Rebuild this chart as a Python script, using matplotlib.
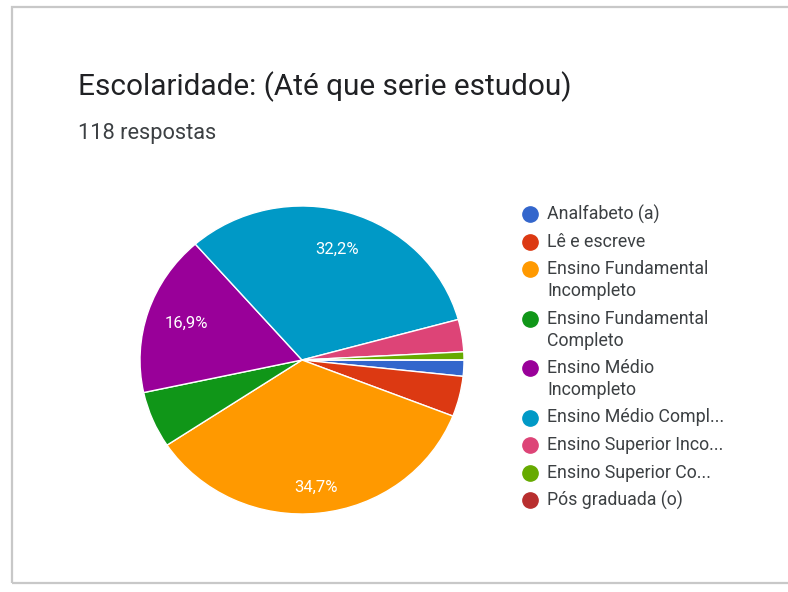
import matplotlib.pyplot as plt
import numpy as np
from matplotlib.lines import Line2D
from matplotlib.patches import Rectangle

# ===== DATA =====
categories = [
    "Analfabeto (a)",
    "Lê e escreve",
    "Ensino Fundamental\nIncompleto",
    "Ensino Fundamental\nCompleto",
    "Ensino Médio\nIncompleto",
    "Ensino Médio Compl...",
    "Ensino Superior Inco...",
    "Ensino Superior Co...",
    "Pós graduada (o)",
]
counts = [2, 5, 41, 7, 20, 38, 4, 1, 0]
colors = ["#3366cc", "#dc3912", "#ff9900", "#109618", "#990099",
          "#0099c6", "#dd4477", "#66aa00", "#b82e2e"]

title = "Escolaridade: (Até que serie estudou)"
subtitle = "118 respostas"

W, H = 788, 592
plt.rcParams['font.family'] = ['Roboto', 'DejaVu Sans']

fig = plt.figure(figsize=(W / 100, H / 100), dpi=100)
fig.patch.set_facecolor("white")

# card border
card = Rectangle((12 / W, 1 - 583 / H), 800 / W, 576 / H, transform=fig.transFigure,
                 facecolor="none", edgecolor="#c8c8c8", lw=1.6, zorder=-1)
fig.patches.append(card)

fig.text(78 / W, 1 - 87 / H, title, fontsize=21.4, color="#202124", va="center", ha="left")
fig.text(78 / W, 1 - 133 / H, subtitle, fontsize=15.7, color="#3c4043", va="center", ha="left")


def pct_label(p):
    if p < 10:
        return ""
    return f"{p:.1f}".replace(".", ",") + "%"


# ===== PIE =====
cx, cy, rx, ry = 302, 360, 162, 154
ax = fig.add_axes([(cx - rx) / W, 1 - (cy + ry) / H, 2 * rx / W, 2 * ry / H])
wedges, texts, autotexts = ax.pie(
    counts, colors=colors, startangle=0, counterclock=False,
    autopct=pct_label, pctdistance=0.75,
    wedgeprops=dict(edgecolor="white", linewidth=1.0),
    textprops=dict(color="white", fontsize=12),
)
# push the label of the widest slice a bit further out
big = int(np.argmax(counts))
mid = np.deg2rad((wedges[big].theta1 + wedges[big].theta2) / 2)
autotexts[big].set_position((0.83 * np.cos(mid), 0.83 * np.sin(mid)))

ax.set_aspect("auto")
ax.set_xlim(-1, 1)
ax.set_ylim(-1, 1)
ax.axis("off")

# ===== LEGEND =====
y = 214
for label, c in zip(categories, colors):
    fig.add_artist(Line2D([530 / W], [1 - y / H], marker="o", markersize=11,
                          color=c, linestyle="none", transform=fig.transFigure))
    for line in label.split("\n"):
        fig.text(547 / W, 1 - y / H, line, fontsize=12.8, color="#3c4043",
                 va="center", ha="left")
        y += 22
    y += 5.5

fig.savefig("out.png", dpi=100)
